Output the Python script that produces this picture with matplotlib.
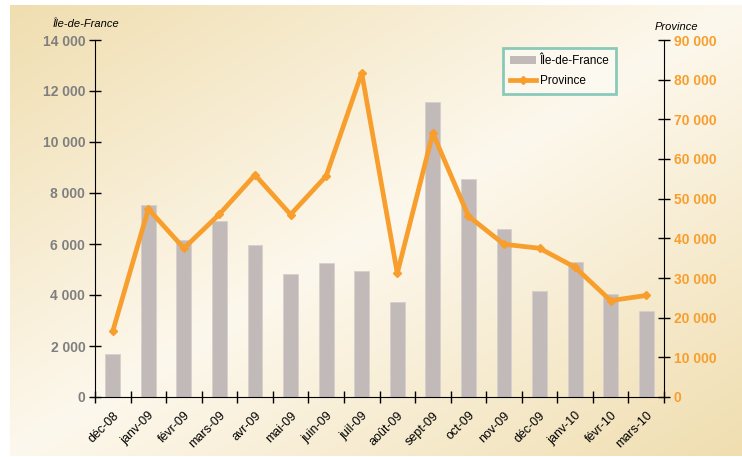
import numpy as np
import matplotlib
matplotlib.use("Agg")
import matplotlib.pyplot as plt
from matplotlib.lines import Line2D
from matplotlib.patches import Patch

plt.rcParams['font.family'] = ['Liberation Sans', 'DejaVu Sans']

months = ["déc-08", "janv-09", "févr-09", "mars-09", "avr-09", "mai-09", "juin-09",
          "juil-09", "août-09", "sept-09", "oct-09", "nov-09", "déc-09", "janv-10",
          "févr-10", "mars-10"]
idf = [1700, 7530, 6150, 6900, 5950, 4840, 5240, 4940, 3710, 11570, 8550, 6590,
       4160, 5300, 4030, 3360]
province = [16600, 47400, 37500, 46100, 56000, 46000, 55700, 81700, 31200, 66500,
            45600, 38500, 37500, 32700, 24300, 25600]

bar_color = "#C2B9B9"
line_color = "#F89E2C"
grey_txt = "#7F7F7F"

fig = plt.figure(figsize=(7.42, 4.57), dpi=100)

# background gradient (tan corners, light diagonal)
bg = fig.add_axes([10 / 742, 1 / 457, 1 - 10 / 742, 1 - 6 / 457])
W, H = 300, 200
xx, yy = np.meshgrid(np.linspace(0, 1, W), np.linspace(0, 1, H))
t = np.abs((xx + yy) - 1.0)
tan = np.array([240, 222, 176]) / 255
light = np.array([253, 248, 237]) / 255
img = light + (tan - light) * t[..., None]
bg.imshow(img, aspect="auto", extent=[0, 1, 1, 0])
bg.axis("off")

ax = fig.add_axes([95 / 742, 1 - 397 / 457, (664 - 95) / 742, (397 - 40) / 457])
ax.patch.set_alpha(0)
x = np.arange(len(months))
ax.bar(x, idf, width=0.42, color=bar_color, edgecolor="#D6CFCD", linewidth=0.6, zorder=2)
ax.set_xlim(-0.5, len(months) - 0.5)
ax.set_ylim(0, 14000)
ax.set_yticks(np.arange(0, 14001, 2000))
ax.set_yticklabels([f"{v:,}".replace(",", " ") for v in range(0, 14001, 2000)],
                   fontsize=10, fontweight="bold", color=grey_txt)
ax.tick_params(axis="y", direction="inout", length=8, width=1, pad=3)
ax.set_xticks(x)
ax.set_xticklabels(months, rotation=45, ha="right", rotation_mode="anchor", fontsize=9)
ax.tick_params(axis="x", length=0, pad=9)
ax.set_xticks(np.arange(-0.5, len(months)), minor=True)
ax.tick_params(axis="x", which="minor", direction="inout", length=8, width=1)
for s in ["top", "right"]:
    ax.spines[s].set_visible(False)

ax2 = ax.twinx()
ax2.plot(x, province, color=line_color, linewidth=3.4, marker="D", markersize=4.5,
         solid_joinstyle="round", zorder=3)
ax2.set_ylim(0, 90000)
ax2.set_yticks(np.arange(0, 90001, 10000))
ax2.set_yticklabels([f"{v:,}".replace(",", " ") for v in range(0, 90001, 10000)],
                    fontsize=10, fontweight="bold", color=line_color)
ax2.tick_params(axis="y", direction="inout", length=8, width=1, pad=3)
for s in ["top", "left", "bottom"]:
    ax2.spines[s].set_visible(False)

fig.text(86 / 742, 1 - 24 / 457, "Île-de-France", fontsize=8, style="italic",
         ha="center", va="center")
fig.text(676 / 742, 1 - 27 / 457, "Province", fontsize=8, style="italic",
         ha="center", va="center")

handles = [Patch(facecolor=bar_color, edgecolor="none"),
           Line2D([0], [0], color=line_color, linewidth=3.4, marker="D", markersize=4.5)]
leg = ax2.legend(handles, ["Île-de-France", "Province"], loc="upper left",
                 bbox_to_anchor=((503 - 95) / 569, 1 - (48 - 40) / 357),
                 borderaxespad=0, fontsize=8.5, frameon=True, fancybox=False,
                 handlelength=2.2, handletextpad=0.3, borderpad=0.6, labelspacing=0.7)
leg.get_frame().set_edgecolor("#6DBFAE")
leg.get_frame().set_linewidth(2)
leg.get_frame().set_facecolor("#FDFAF2")

fig.savefig("out.png", dpi=100)
